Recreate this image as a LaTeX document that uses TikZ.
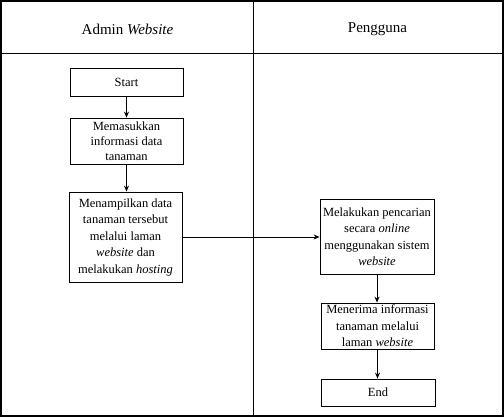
\documentclass[tikz,border=0pt]{standalone}
\usepackage{fontspec}
\setmainfont{Liberation Serif}
\usetikzlibrary{arrows.meta}
\begin{document}
\begin{tikzpicture}[x=1pt,y=-1pt,
  box/.style={draw, line width=0.8pt, minimum width=113pt, align=center, inner sep=0pt,
    font=\fontsize{12.5}{16.5}\selectfont},
  head/.style={font=\fontsize{15}{18}\selectfont, inner sep=0pt},
  arr/.style={-{Stealth[length=6pt,width=5pt]}, line width=0.9pt}]
\useasboundingbox (0,0) rectangle (504,417);
\draw[line width=1.3pt] (1,1) rectangle (503,416);
\draw[line width=0.8pt] (1,53) -- (503,53);
\draw[line width=0.8pt] (253,1) -- (253,416);
\node[head] (h1) at (127.5,29) {Admin \textit{Website}};
\node[head] (h2) at (377.5,29) {Pengguna};
\node[box, minimum height=28pt] (start) at (126.5,82) {Start};
\node[box, minimum height=46pt, font=\fontsize{12.5}{15}\selectfont] (mem) at (126.5,141) {Memasukkan\\informasi data\\tanaman};
\node[box, minimum height=90pt] (men) at (125.5,237) {Menampilkan data\\tanaman tersebut\\melalui laman\\\textit{website} dan\\melakukan \textit{hosting}};
\node[box, minimum height=75pt, minimum width=114pt] (cari) at (377,236.5) {Melakukan pencarian\\secara \textit{online}\\menggunakan sistem\\\textit{website}};
\node[box, minimum height=46pt] (terima) at (377.5,326) {Menerima informasi\\tanaman melalui\\laman \textit{website}};
\node[box, minimum height=27pt, minimum width=114pt] (end) at (378,392.5) {End};
\draw[arr] (start.south) -- (start.south |- mem.north);
\draw[arr] (mem.south) -- (mem.south |- men.north);
\draw[arr] (men.east) -- (men.east -| cari.west);
\draw[arr] (cari.south) -- (cari.south |- terima.north);
\draw[arr] (terima.south) -- (terima.south |- end.north);
\end{tikzpicture}
\end{document}
